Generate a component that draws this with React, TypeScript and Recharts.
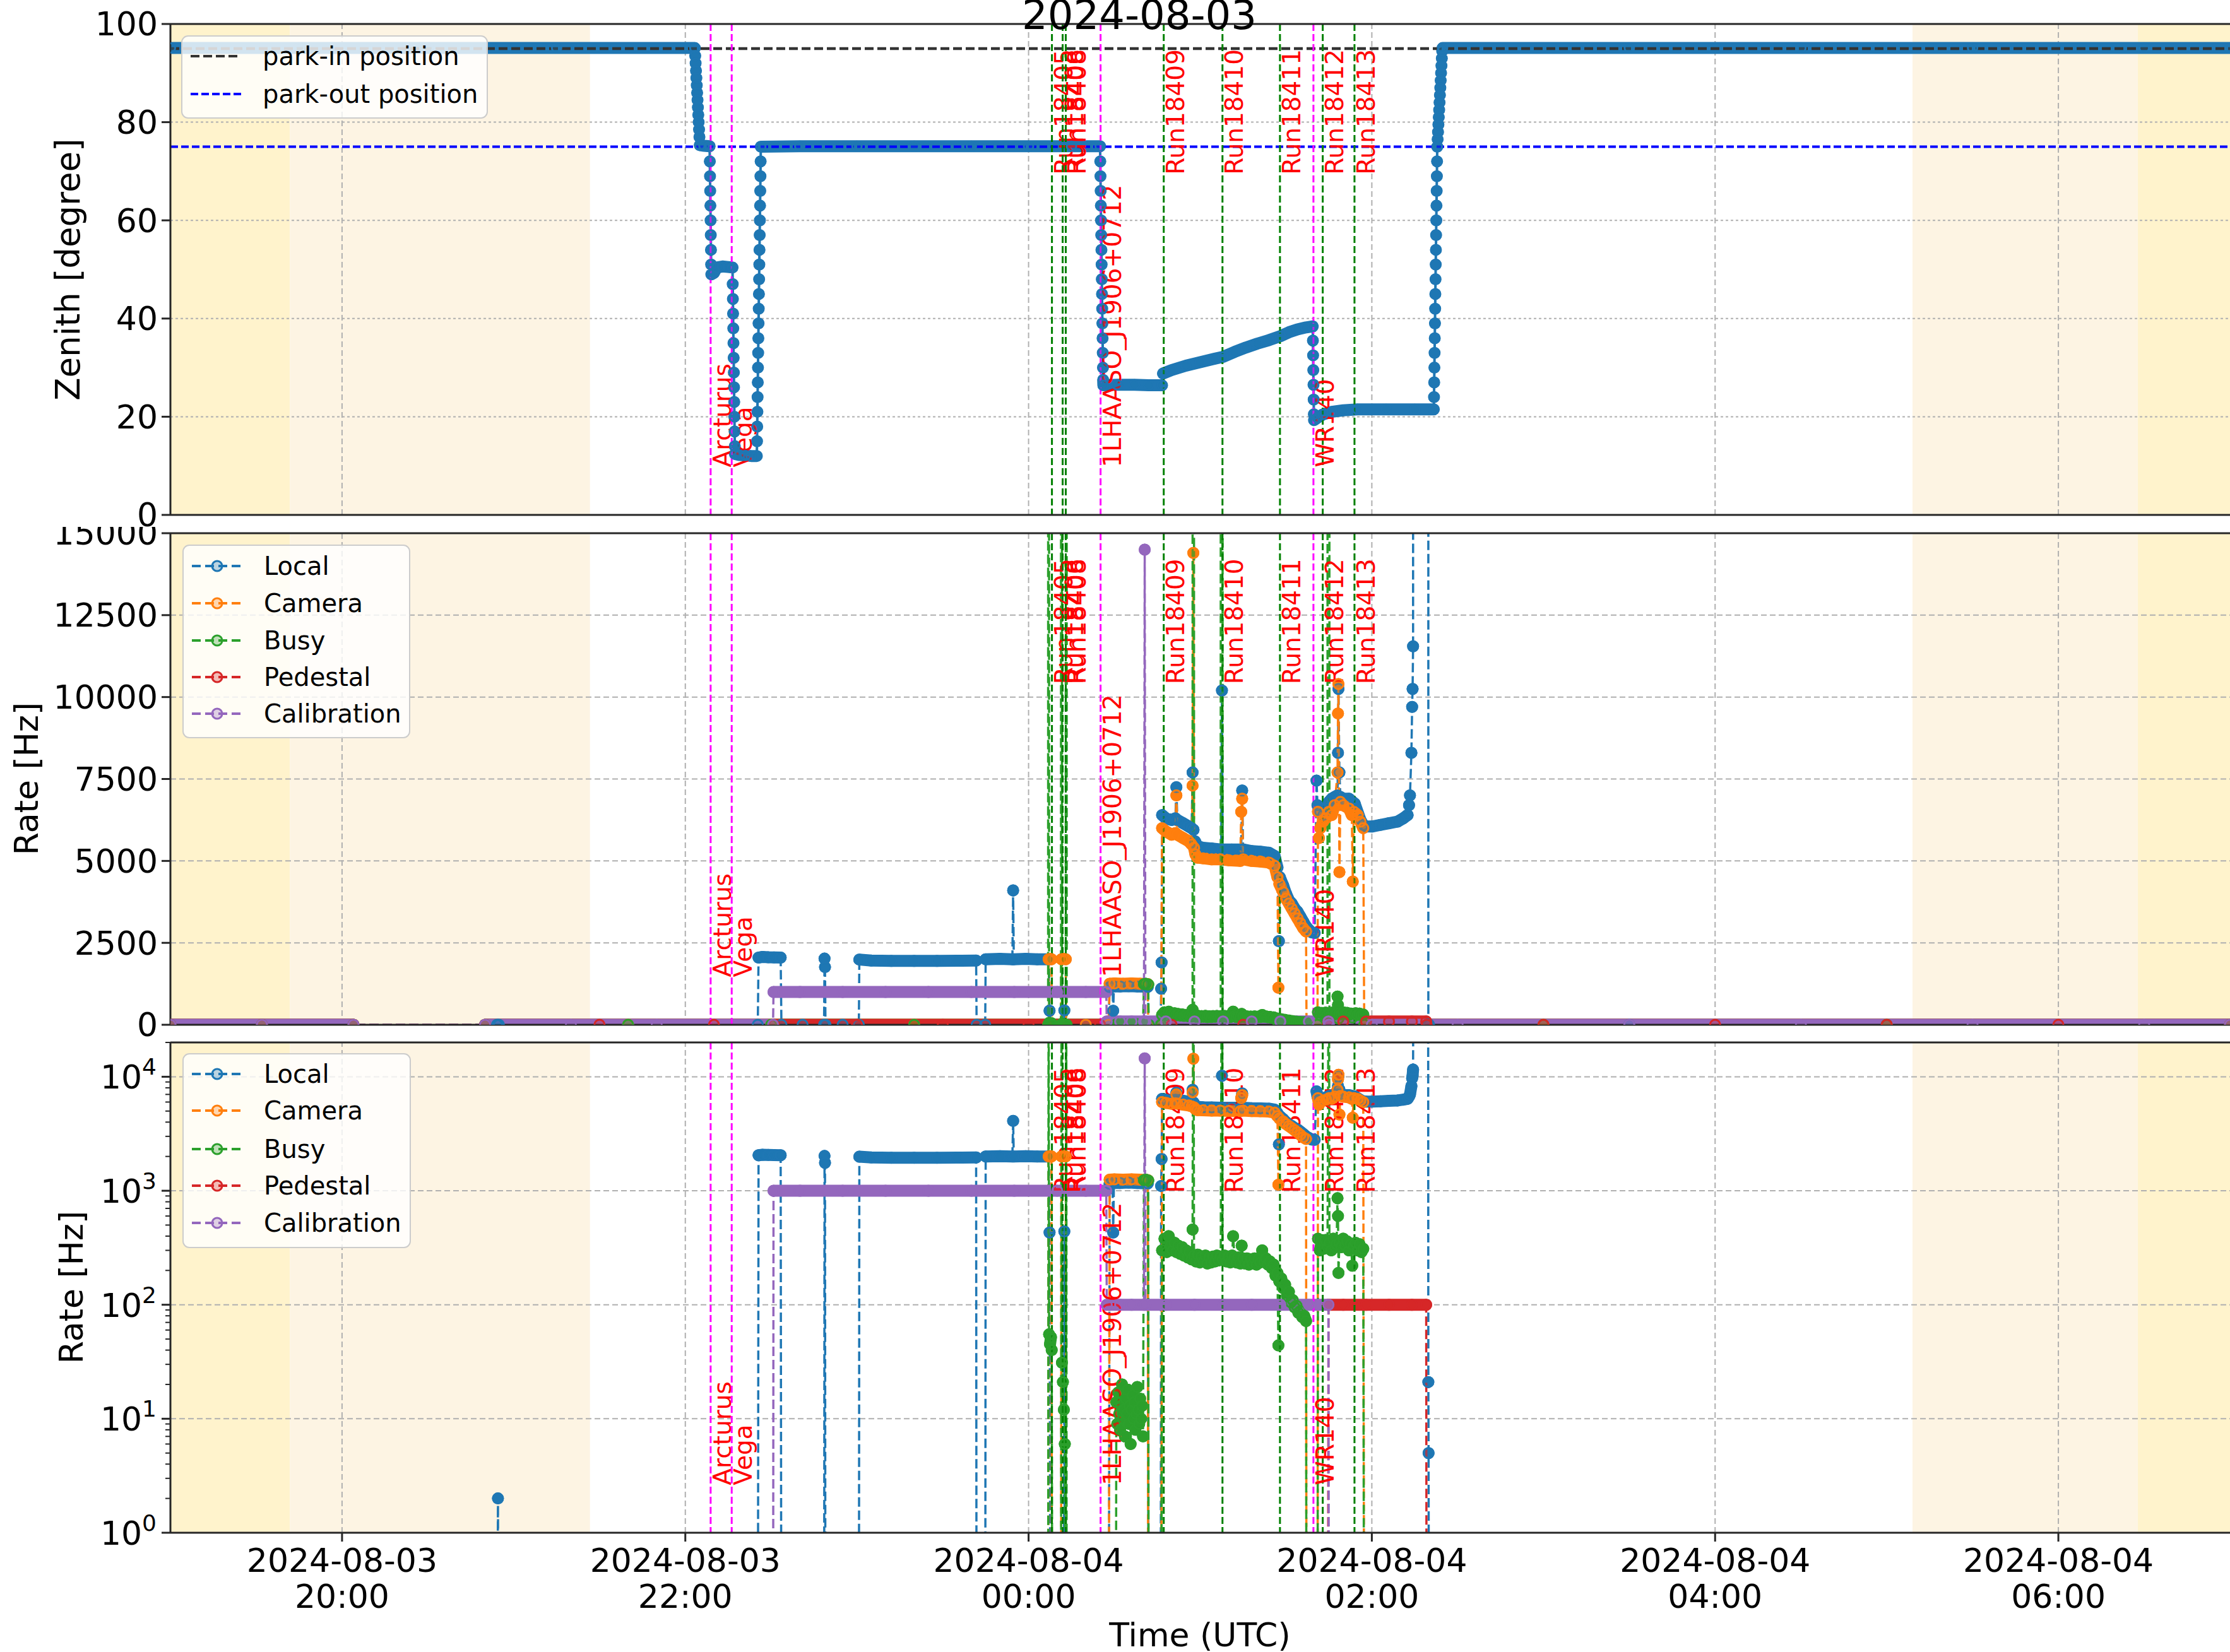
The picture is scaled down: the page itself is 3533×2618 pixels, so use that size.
import React from 'react'
import { ComposedChart, Line, XAxis, YAxis, ReferenceLine, ReferenceArea, Legend } from 'recharts'

type Pt = [string, number] | null

// ---------- data ----------
const xTickTimes = ['20:00', '22:00', '00:00', '02:00', '04:00', '06:00']
const xTickDates = ['2024-08-03', '2024-08-03', '2024-08-04', '2024-08-04', '2024-08-04', '2024-08-04']
const twilightDeep = [['19:00', '19:41:45'], ['06:27:45', '07:00']]
const twilightPale = [['19:41:45', '21:26:40'], ['05:09', '06:27:45']]
const sourceNames = ['Arcturus', 'Vega', '1LHAASO_J1906+0712', 'WR140']
const sourceTimes = ['22:08:51', '22:16:13', '00:25:10', '01:39:35']
const runNames = ['Run18405', 'Run18406', 'Run18408', 'Run18409', 'Run18410', 'Run18411', 'Run18412', 'Run18413']
const runTimes = ['00:08:10', '00:11:55', '00:13:00', '00:47:15', '01:07:47', '01:27:53', '01:42:50', '01:53:56']
const parkIn = 95
const parkOut = 75
const zenithTicks = [0, 20, 40, 60, 80, 100]
const rateTicks = [0, 2500, 5000, 7500, 10000, 12500, 15000]
const logDecades = [1, 10, 100, 1000, 10000]

const zenith: Pt[] = [
  ['19:00', 95.1], ['19:45', 95.1], ['20:30', 95.1], ['21:15', 95.1], ['22:03:20', 95.1],
  ['22:03:28', 93.5], ['22:03:36', 92], ['22:03:44', 90.5], ['22:03:52', 89], ['22:04', 87.5], ['22:04:08', 86], ['22:04:16', 84.5],
  ['22:04:24', 83], ['22:04:32', 81.5], ['22:04:40', 80], ['22:04:48', 78.5], ['22:04:56', 77], ['22:05:04', 75.3],
  ['22:06:30', 75.2], ['22:08:30', 75.1],
  ['22:08:34', 72], ['22:08:38', 69], ['22:08:42', 66], ['22:08:46', 63], ['22:08:50', 60], ['22:08:54', 57], ['22:08:58', 54], ['22:09:02', 51], ['22:09:06', 49],
  ['22:10', 49.3], ['22:11', 50.4], ['22:13', 50.6], ['22:15', 50.5], ['22:16:30', 50.4],
  ['22:16:34', 47], ['22:16:38', 44], ['22:16:42', 41], ['22:16:46', 38], ['22:16:50', 35], ['22:16:54', 32], ['22:16:58', 29],
  ['22:17:02', 26], ['22:17:06', 23], ['22:17:10', 20], ['22:17:14', 17], ['22:17:18', 14], ['22:17:22', 12.4],
  ['22:19', 12.2], ['22:21', 12.1], ['22:23', 12], ['22:25', 12],
  ['22:25:04', 15], ['22:25:08', 18], ['22:25:12', 21], ['22:25:16', 24], ['22:25:20', 27], ['22:25:24', 30], ['22:25:28', 33],
  ['22:25:32', 36], ['22:25:36', 39], ['22:25:40', 42], ['22:25:44', 45], ['22:25:48', 48], ['22:25:52', 51], ['22:25:56', 54],
  ['22:26', 57], ['22:26:04', 60], ['22:26:08', 63], ['22:26:12', 66], ['22:26:16', 69], ['22:26:20', 72], ['22:26:24', 75],
  ['22:40', 75.1], ['23:00', 75.1], ['23:20', 75.1], ['23:40', 75.1], ['00:00', 75.1], ['00:15', 75.1], ['00:25', 75.1],
  ['00:25:04', 72], ['00:25:08', 69], ['00:25:12', 66], ['00:25:16', 63], ['00:25:20', 60], ['00:25:24', 57], ['00:25:28', 54],
  ['00:25:32', 51], ['00:25:36', 48], ['00:25:40', 45], ['00:25:44', 42], ['00:25:48', 39], ['00:25:52', 36], ['00:25:56', 33],
  ['00:26', 30], ['00:26:04', 27.5], ['00:26:08', 26.4],
  ['00:31', 26.5], ['00:37', 26.5], ['00:42', 26.4], ['00:46:40', 26.4],
  ['00:47', 28.8], ['00:50', 29.5], ['00:55', 30.4], ['01:00', 31.1], ['01:05', 31.8], ['01:08', 32.2], ['01:12', 33.2],
  ['01:16', 34.1], ['01:20', 34.9], ['01:24', 35.6], ['01:28', 36.4], ['01:31', 37.2], ['01:34', 37.8], ['01:37', 38.2], ['01:39:20', 38.4],
  ['01:39:24', 35.5], ['01:39:28', 32.5], ['01:39:32', 29.5], ['01:39:36', 26.5], ['01:39:40', 23.5], ['01:39:44', 20.5], ['01:39:48', 19.3],
  ['01:41', 19.8], ['01:43', 20.5], ['01:46', 21], ['01:50', 21.3], ['01:55', 21.5], ['02:05', 21.5], ['02:15', 21.5], ['02:21:40', 21.5],
  ['02:21:44', 24], ['02:21:48', 27], ['02:21:52', 30], ['02:21:56', 33], ['02:22', 36], ['02:22:04', 39], ['02:22:08', 42],
  ['02:22:12', 45], ['02:22:16', 48], ['02:22:20', 51], ['02:22:24', 54], ['02:22:28', 57], ['02:22:32', 60], ['02:22:36', 63],
  ['02:22:40', 66], ['02:22:44', 69], ['02:22:48', 72], ['02:22:52', 75],
  ['02:23', 76.5], ['02:23:08', 78], ['02:23:16', 79.5], ['02:23:24', 81], ['02:23:32', 82.5], ['02:23:40', 84], ['02:23:48', 85.5],
  ['02:23:56', 87], ['02:24:04', 88.5], ['02:24:12', 90], ['02:24:20', 91.5], ['02:24:28', 93], ['02:24:36', 94.5], ['02:24:44', 95.1],
  ['03:30', 95.1], ['04:30', 95.1], ['05:30', 95.1], ['06:30', 95.1], ['07:00', 95.1],
]

const local: Pt[] = [
  ['19:00', 0], ['19:32', 0], ['20:04', 0], null,
  ['20:50', 0], ['20:54:10', 0], ['20:54:30', 2], ['20:54:50', 0], ['21:40', 0], ['22:25:20', 0],
  ['22:25:36', 2050], ['22:27', 2070], ['22:29', 2060], ['22:31', 2055], ['22:33:20', 2050], ['22:33:36', 0],
  ['22:41', 0], ['22:48:30', 0], ['22:48:40', 2020], ['22:48:50', 1760], ['22:49', 0],
  ['22:55', 0], ['23:00:40', 0], ['23:00:50', 1990], ['23:05', 1960], ['23:12', 1950], ['23:20', 1950], ['23:28', 1950],
  ['23:35', 1955], ['23:41:40', 1960], ['23:41:50', 0],
  ['23:44:50', 0], ['23:45', 2000], ['23:50', 2010], ['23:54:20', 2000], ['23:54:36', 4100], ['23:54:50', 2000],
  ['23:59', 2010], ['00:03', 2000], ['00:07', 2000],
  ['00:07:20', 430], ['00:07:40', 0], ['00:12:20', 0], ['00:12:30', 440], ['00:12:40', 0],
  ['00:20', 0], ['00:28', 0], ['00:28:20', 1150], ['00:29:20', 1170], ['00:29:35', 430], ['00:29:50', 1170], ['00:32', 1170],
  ['00:35', 1180], ['00:38', 1170], ['00:41:40', 1160], ['00:42', 0],
  ['00:46:10', 0], ['00:46:20', 1100], ['00:46:30', 1900], ['00:46:40', 6400], ['00:48', 6300], ['00:50', 6250], ['00:51:20', 6300],
  ['00:51:40', 7250], ['00:52', 6250], ['00:54', 6150], ['00:56', 6050], ['00:57', 6000], ['00:57:20', 7700], ['00:57:40', 5950],
  ['00:58:10', 5600], ['00:59', 5450], ['01:01', 5400], ['01:04', 5380], ['01:07:20', 5350], ['01:07:36', 10200], ['01:07:50', 5350],
  ['01:11', 5350], ['01:14:20', 5350], ['01:14:40', 7150], ['01:15', 5350], ['01:18', 5300], ['01:21', 5280], ['01:24', 5250],
  ['01:26', 5150], ['01:27', 4800], ['01:27:30', 2550], ['01:27:50', 4500], ['01:29', 4250], ['01:30', 4000], ['01:31', 3800],
  ['01:32', 3700], ['01:33', 3550], ['01:34', 3450], ['01:35', 3300], ['01:36', 3150], ['01:37', 3000], ['01:38', 2900],
  ['01:39', 2820], ['01:40', 2800],
  ['01:40:40', 7450], ['01:41', 6700], ['01:42', 6500], ['01:43', 6400], ['01:44', 6600], ['01:45', 6800], ['01:46', 6900],
  ['01:47', 6950], ['01:48', 7000], ['01:48:10', 8300], ['01:48:20', 10250], ['01:48:40', 7700], ['01:49', 6950], ['01:50', 6900],
  ['01:52', 6900], ['01:54', 6750], ['01:56', 6250], ['01:57', 6100], ['01:58', 6050], ['02:00', 6050], ['02:03', 6100],
  ['02:06', 6150], ['02:09', 6200], ['02:11', 6300], ['02:12:30', 6400], ['02:13', 6700], ['02:13:20', 7000], ['02:13:50', 8300],
  ['02:14:05', 9700], ['02:14:15', 10250], ['02:14:25', 11550], ['02:14:35', 1000000], ['02:19:40', 1000000], ['02:19:45', 21],
  ['02:19:50', 5], ['02:20', 0], ['03:30', 0], ['05:00', 0], ['07:00', 0],
]

const camera: Pt[] = [
  ['19:00', 0], ['19:32', 0], ['20:04', 0], null,
  ['20:50', 0], ['21:40', 0], ['22:30', 0], ['23:20', 0], ['00:06:50', 0],
  ['00:07', 2000], ['00:07:30', 2010], ['00:08', 2000], ['00:08:10', 0], ['00:11:20', 0], ['00:11:30', 2000], ['00:12:15', 2010],
  ['00:13', 2000], ['00:13:10', 0],
  ['00:20', 0], ['00:28', 0], ['00:28:20', 1250], ['00:30', 1260], ['00:33', 1250], ['00:36', 1260], ['00:39', 1250],
  ['00:41:40', 1240], ['00:41:50', 0],
  ['00:46:20', 0], ['00:46:40', 6000], ['00:48', 5900], ['00:50', 5800], ['00:51:20', 5850], ['00:51:40', 7000], ['00:52', 5800],
  ['00:54', 5700], ['00:56', 5600], ['00:57', 5500], ['00:57:20', 7300], ['00:57:36', 14400], ['00:57:50', 5400], ['00:58:20', 5200],
  ['00:59', 5100], ['01:01', 5080], ['01:04', 5050], ['01:07', 5050], ['01:10', 5020], ['01:14', 5000], ['01:14:20', 6500],
  ['01:14:40', 6900], ['01:15', 5050], ['01:18', 5000], ['01:21', 4980], ['01:24', 4950], ['01:26', 4850], ['01:27', 4500],
  ['01:27:20', 1130], ['01:27:40', 4300], ['01:29', 4050], ['01:30', 3850], ['01:31', 3700], ['01:32', 3550], ['01:33', 3400],
  ['01:34', 3250], ['01:35', 3100], ['01:36', 2950], ['01:37', 2850], ['01:37:10', 0],
  ['01:41', 0], ['01:41:10', 6500], ['01:41:30', 5700], ['01:42', 6000], ['01:43', 6200], ['01:44', 6300], ['01:45', 6500],
  ['01:46', 6400], ['01:47', 6700], ['01:48', 7700], ['01:48:10', 9500], ['01:48:20', 10400], ['01:48:40', 4660], ['01:49', 6800],
  ['01:50', 6700], ['01:52', 6600], ['01:53', 6400], ['01:53:20', 4370], ['01:53:40', 6500], ['01:55', 6400], ['01:56', 6200],
  ['01:57', 6000], ['01:57:20', 0],
  ['03:00', 0], ['05:00', 0], ['07:00', 0],
]

const busy: Pt[] = [
  ['19:00', 0], ['19:32', 0], ['20:04', 0], null,
  ['20:50', 0], ['21:40', 0], ['22:30', 0], ['23:20', 0], ['00:06:50', 0],
  ['00:07', 1000000], ['00:07:10', 55], ['00:07:30', 45], ['00:07:50', 52], ['00:08:05', 40], ['00:08:20', 0],
  ['00:11:20', 0], ['00:11:30', 1000000], ['00:11:40', 31], ['00:12', 21], ['00:12:20', 12], ['00:12:40', 6], ['00:13', 0],
  ['00:13:10', 1000000], ['00:13:20', 0],
  ['00:30:30', 0], ['00:30:40', 14], ['00:31', 9], ['00:31:20', 17], ['00:31:40', 11], ['00:32', 8], ['00:32:20', 13],
  ['00:32:40', 20], ['00:33', 10], ['00:33:20', 12], ['00:33:40', 7], ['00:34', 15], ['00:34:20', 11], ['00:34:40', 18],
  ['00:35', 9], ['00:35:20', 13], ['00:35:40', 6], ['00:36', 12], ['00:36:20', 16], ['00:36:40', 10], ['00:37', 14],
  ['00:37:20', 8], ['00:37:40', 11], ['00:38', 19], ['00:38:20', 12], ['00:38:40', 9], ['00:39', 15], ['00:39:20', 10],
  ['00:39:40', 13], ['00:40', 7], ['00:40:20', 1240], ['00:41', 1250], ['00:41:50', 1230], ['00:42', 0],
  ['00:46:20', 0], ['00:46:40', 300], ['00:47:30', 380], ['00:48:20', 290], ['00:49', 400], ['00:49:40', 330], ['00:50:20', 300],
  ['00:51', 350], ['00:51:40', 290], ['00:52:20', 330], ['00:53', 280], ['00:53:40', 320], ['00:54:20', 270], ['00:55', 300],
  ['00:55:40', 260], ['00:56:20', 290], ['00:57', 250], ['00:57:20', 457], ['00:57:36', 1000000], ['00:57:50', 270],
  ['00:58:30', 240], ['00:59:10', 275], ['00:59:50', 235], ['01:00:30', 265], ['01:01:10', 240], ['01:01:50', 270],
  ['01:02:30', 230], ['01:03:10', 260], ['01:03:50', 235], ['01:04:30', 265], ['01:05:10', 240], ['01:05:50', 270],
  ['01:06:30', 245], ['01:07:10', 265], ['01:07:36', 1000000], ['01:07:50', 250], ['01:08:30', 270], ['01:09:10', 240],
  ['01:09:50', 265], ['01:10:30', 235], ['01:11:10', 270], ['01:11:30', 400], ['01:12', 260], ['01:12:40', 235],
  ['01:13:20', 260], ['01:14', 230], ['01:14:30', 330], ['01:15', 255], ['01:15:40', 230], ['01:16:20', 255], ['01:17', 225],
  ['01:17:40', 250], ['01:18:20', 230], ['01:19', 255], ['01:19:40', 225], ['01:20:20', 250], ['01:21', 235], ['01:21:40', 300],
  ['01:22:20', 240], ['01:23', 255], ['01:23:40', 225], ['01:24:20', 240], ['01:25', 210], ['01:25:40', 225], ['01:26:20', 180],
  ['01:27', 190], ['01:27:20', 44], ['01:27:40', 160], ['01:28:20', 170], ['01:29', 140], ['01:29:40', 150], ['01:30:20', 120],
  ['01:31', 130], ['01:31:40', 105], ['01:32:20', 110], ['01:33', 95], ['01:33:40', 98], ['01:34:20', 85], ['01:35', 88],
  ['01:35:40', 78], ['01:36:20', 80], ['01:37', 72], ['01:37:10', 0],
  ['01:41', 0], ['01:41:10', 380], ['01:41:50', 300], ['01:42:30', 360], ['01:43:10', 310], ['01:43:50', 370], ['01:44:30', 320],
  ['01:45', 1000000], ['01:45:10', 350], ['01:45:50', 300], ['01:46:30', 380], ['01:47:10', 320], ['01:47:40', 340],
  ['01:48', 860], ['01:48:10', 600], ['01:48:20', 190], ['01:48:40', 350], ['01:49:20', 320], ['01:50', 380], ['01:50:40', 330],
  ['01:51:20', 360], ['01:52', 300], ['01:52:40', 340], ['01:53:10', 220], ['01:53:40', 330], ['01:54:20', 350], ['01:55', 300],
  ['01:55:40', 340], ['01:56:20', 290], ['01:57', 310], ['01:57:20', 0],
  ['03:00', 0], ['05:00', 0], ['07:00', 0],
]

const pedestal: Pt[] = [
  ['19:00', 0], ['19:32', 0], ['20:04', 0], null,
  ['20:50', 0], ['21:30', 0], ['22:10', 0], ['22:31', 0], ['23:00', 0], ['23:30', 0], ['00:00', 0], ['00:25', 0],
  ['00:50', 0], ['01:15', 0], ['01:44:40', 0],
  ['01:44:50', 100], ['01:50', 100], ['01:58', 100], ['02:06', 100], ['02:14', 100], ['02:19', 100],
  ['02:19:10', 0], ['03:00', 0], ['04:00', 0], ['05:00', 0], ['06:00', 0], ['07:00', 0],
]

const calibration: Pt[] = [
  ['19:00', 0], ['19:32', 0], ['20:04', 0], null,
  ['20:50', 0], ['21:20', 0], ['21:50', 0], ['22:30:40', 0],
  ['22:30:50', 1000], ['22:40', 1000], ['22:55', 1000], ['23:10', 1000], ['23:25', 1000], ['23:40', 1000], ['23:55', 1000],
  ['00:10', 1000], ['00:20', 1000], ['00:27:10', 1000],
  ['00:27:20', 100], ['00:32', 100], ['00:36', 100], ['00:40:20', 100], ['00:40:36', 14500], ['00:40:50', 100], ['00:48', 100],
  ['00:58', 100], ['01:08', 100], ['01:18', 100], ['01:28', 100], ['01:38', 100], ['01:44:50', 100],
  ['01:45', 0], ['02:00', 0], ['02:30', 0], ['03:30', 0], ['04:30', 0], ['05:30', 0], ['06:30', 0], ['07:00', 0],
]

// ---------- layout ----------
const W = 3533
const H = 2618
const PLOT_L = 270
const PLOT_W = W - PLOT_L
const FONT = "'DejaVu Sans', sans-serif"
const SPINE = '#262626'
const GRID = '#b0b0b0'
const LOG_TOP = 20000
const LOG_FLOOR = 0.01

const BLUE = '#1f77b4'
const rateSeries = [
  { name: 'Local', color: '#1f77b4', pts: local },
  { name: 'Camera', color: '#ff7f0e', pts: camera },
  { name: 'Busy', color: '#2ca02c', pts: busy },
  { name: 'Pedestal', color: '#d62728', pts: pedestal },
  { name: 'Calibration', color: '#9467bd', pts: calibration },
]

function hrs(s: string) {
  const [h, m, sec] = s.split(':').map(Number)
  return (h < 12 ? h + 24 : h) + m / 60 + (sec || 0) / 3600
}

const X0 = hrs('19:00')
const X1 = hrs('07:00')
const PX_PER_H = PLOT_W / (X1 - X0)
const xTickValues = xTickTimes.map(hrs)
const logMinor = logDecades.flatMap((d) => [2, 3, 4, 5, 6, 7, 8, 9].map((k) => k * d)).filter((v) => v <= LOG_TOP)

// dense sampling shows as a solid band; steep jumps only as thin line + rings
function bandData(pts: Pt[], yPx: (v: number) => number, tf: (v: number) => number) {
  const out: { t: number; v: number | null }[] = []
  let prev: { t: number; v: number } | null = null
  for (const p of pts) {
    if (!p) {
      if (prev) out.push({ t: prev.t + 1e-4, v: null })
      prev = null
      continue
    }
    const cur = { t: hrs(p[0]), v: tf(p[1]) }
    if (prev) {
      const dx = (cur.t - prev.t) * PX_PER_H
      const dy = Math.abs(yPx(cur.v) - yPx(prev.v))
      if (dy > 2.5 * dx + 8) out.push({ t: (prev.t + cur.t) / 2, v: null })
    }
    out.push(cur)
    prev = cur
  }
  return out
}

const ring = (color: string, r: number) => (p: any) => {
  const k = 'd' + p.index
  if (p.cx == null || p.cy == null || !isFinite(p.cy)) return <g key={k} />
  return <circle key={k} cx={p.cx} cy={p.cy} r={r} fill={color} fillOpacity={0.3} stroke={color} strokeWidth={3} />
}

const annShape = (name: string, frac: number, color: string) => (p: any) => {
  const x = p.x1
  const top = Math.min(p.y1, p.y2)
  const bot = Math.max(p.y1, p.y2)
  const ty = bot - frac * (bot - top)
  const tx = x + 32
  return (
    <g>
      <line x1={x} x2={x} y1={top} y2={bot} stroke={color} strokeWidth={3} strokeDasharray="11 5" />
      <text x={tx} y={ty} transform={`rotate(-90 ${tx} ${ty})`} fill="#ff0000" fontSize={39} fontFamily={FONT}>
        {name}
      </text>
    </g>
  )
}

function LegendBox({ w, h, rows, rowY }: any) {
  return (
    <svg width={w + 4} height={h + 4} style={{ display: 'block', overflow: 'visible' }}>
      <rect x={2} y={2} width={w} height={h} rx={10} fill="#fff" fillOpacity={0.8} stroke="#cccccc" strokeWidth={2} />
      {rows.map((r: any, i: number) => (
        <g key={r.name}>
          <line x1={16} x2={96} y1={rowY[i] + 2} y2={rowY[i] + 2} stroke={r.color} strokeWidth={4} strokeDasharray={r.dash} />
          {r.marker && (
            <circle cx={56} cy={rowY[i] + 2} r={8} fill={r.color} fillOpacity={0.3} stroke={r.color} strokeWidth={3} />
          )}
          <text x={130} y={rowY[i] + 16} fontSize={40} fontFamily={FONT} fill="#000">
            {r.name}
          </text>
        </g>
      ))}
    </svg>
  )
}

const xTickLabel = (p: any) => {
  const i = xTickValues.findIndex((v) => Math.abs(v - p.payload.value) < 1e-6)
  return (
    <text x={p.x} y={849} textAnchor="middle" fontSize={52} fill="#000" fontFamily={FONT}>
      <tspan x={p.x} y={849}>{xTickDates[i]}</tspan>
      <tspan x={p.x} y={906}>{xTickTimes[i]}</tspan>
    </text>
  )
}

const logTick = (p: any) => {
  const v = p.payload.value
  const major = logDecades.includes(v)
  const y = p.y
  return (
    <g>
      <line x1={PLOT_L - (major ? 14 : 8)} x2={PLOT_L} y1={y} y2={y} stroke={SPINE} strokeWidth={major ? 3 : 2} />
      {major && (
        <text x={248} y={y + 19} textAnchor="end" fontSize={52} fill="#000" fontFamily={FONT}>
          10
          <tspan dy={-22} fontSize={36}>
            {Math.round(Math.log10(v))}
          </tspan>
        </text>
      )}
    </g>
  )
}

function Panel({ kind, top, mt, h, xh }: { kind: 'zen' | 'rate' | 'log'; top: number; mt: number; h: number; xh: number }) {
  const isLog = kind === 'log'
  const yMax = kind === 'zen' ? 100 : kind === 'rate' ? 15000 : LOG_TOP
  const tf = isLog ? (v: number) => (v > 0 ? v : LOG_FLOOR) : (v: number) => v
  const yPx = isLog ? (v: number) => (Math.log10(v) / Math.log10(LOG_TOP)) * h : (v: number) => (v / yMax) * h
  const list = kind === 'zen' ? [{ name: 'Zenith', color: BLUE, pts: zenith }] : rateSeries
  const gridY = kind === 'zen' ? [20, 40, 60, 80] : kind === 'rate' ? [2500, 5000, 7500, 10000, 12500] : [10, 100, 1000, 10000]
  const hDash = kind === 'zen' ? '4 4' : '9 5'
  const bandW = kind === 'zen' ? 19 : 19
  const dotR = kind === 'zen' ? 7.5 : 8

  const seriesEls = list.flatMap((s) => {
    const conn = s.pts.filter(Boolean).map((p: any) => ({ t: hrs(p[0]), v: tf(p[1]) }))
    const band = bandData(s.pts, yPx, tf)
    return [
      <Line
        key={s.name + '-c'}
        name={s.name}
        data={conn}
        dataKey="v"
        type="linear"
        stroke={s.color}
        strokeWidth={kind === 'zen' ? 4 : 3.5}
        strokeDasharray={kind === 'zen' ? undefined : '15 6'}
        dot={ring(s.color, dotR)}
        activeDot={false}
        isAnimationActive={false}
      />,
      <Line
        key={s.name + '-b'}
        data={band}
        dataKey="v"
        type="linear"
        stroke={s.color}
        strokeWidth={bandW}
        strokeLinecap="round"
        strokeLinejoin="round"
        connectNulls={false}
        dot={false}
        activeDot={false}
        legendType="none"
        isAnimationActive={false}
      />,
    ]
  })

  const legendRows =
    kind === 'zen'
      ? [
          { name: 'park-in position', color: '#333333', dash: '14 6' },
          { name: 'park-out position', color: '#0000ff', dash: '12 5' },
        ]
      : rateSeries.map((s) => ({ name: s.name, color: s.color, dash: '14 7', marker: true }))
  const legendGeom =
    kind === 'zen'
      ? { left: 286, top: 55, w: 484, h: 130, rowY: [32, 92] }
      : kind === 'rate'
        ? { left: 288, top: 27, w: 359, h: 305, rowY: [33, 92, 151, 209, 267] }
        : { left: 288, top: 26, w: 360, h: 307, rowY: [32, 90, 151, 209, 268] }

  const yAxis = isLog ? (
    <YAxis
      type="number"
      scale="log"
      domain={[1, LOG_TOP]}
      ticks={[...logDecades, ...logMinor]}
      interval={0}
      width={PLOT_L}
      allowDataOverflow
      axisLine={{ stroke: SPINE, strokeWidth: 3 }}
      tickLine={false}
      tick={logTick}
    />
  ) : (
    <YAxis
      type="number"
      domain={[0, yMax]}
      ticks={kind === 'zen' ? zenithTicks : rateTicks}
      interval={0}
      width={PLOT_L}
      allowDataOverflow
      tickSize={14}
      tickMargin={6}
      axisLine={{ stroke: SPINE, strokeWidth: 3 }}
      tickLine={{ stroke: SPINE, strokeWidth: 3 }}
      tick={{ fontSize: 52, fill: '#000', fontFamily: FONT }}
    />
  )

  return (
    <div style={{ position: 'absolute', left: 0, top }}>
      <ComposedChart width={W} height={mt + h + xh} margin={{ top: mt, right: 0, bottom: 0, left: 0 }}>
        <XAxis
          type="number"
          dataKey="t"
          domain={[X0, X1]}
          ticks={xTickValues}
          interval={0}
          allowDataOverflow
          height={xh}
          tickSize={14}
          axisLine={{ stroke: SPINE, strokeWidth: 3 }}
          tickLine={{ stroke: SPINE, strokeWidth: 3 }}
          tick={kind === 'log' ? xTickLabel : false}
        />
        {yAxis}
        {twilightDeep.map(([a, b]) => (
          <ReferenceArea key={'dk' + a} x1={hrs(a)} x2={hrs(b)} fill="#fff3cc" fillOpacity={1} stroke="none" />
        ))}
        {twilightPale.map(([a, b]) => (
          <ReferenceArea key={'pl' + a} x1={hrs(a)} x2={hrs(b)} fill="#fdf4e3" fillOpacity={1} stroke="none" />
        ))}
        {xTickValues.map((x) => (
          <ReferenceLine key={'gx' + x} x={x} stroke={GRID} strokeWidth={2} strokeDasharray="9 5" />
        ))}
        {gridY.map((y) => (
          <ReferenceLine key={'gy' + y} y={y} stroke={GRID} strokeWidth={2} strokeDasharray={hDash} />
        ))}
        {seriesEls}
        {kind === 'zen' && <ReferenceLine y={parkIn} stroke="#333333" strokeWidth={4.5} strokeDasharray="14 6" />}
        {kind === 'zen' && <ReferenceLine y={parkOut} stroke="#0000ff" strokeWidth={4} strokeDasharray="12 5" />}
        {runTimes.map((t, i) => (
          <ReferenceLine key={'run' + i} x={hrs(t)} stroke="#008000" shape={annShape(runNames[i], 0.693, '#008000')} />
        ))}
        {sourceTimes.map((t, i) => (
          <ReferenceLine key={'src' + i} x={hrs(t)} stroke="#ff00ff" shape={annShape(sourceNames[i], 0.097, '#ff00ff')} />
        ))}
        <ReferenceLine y={yMax} stroke={SPINE} strokeWidth={3} />
        <Legend
          layout="vertical"
          align="center"
          verticalAlign="middle"
          wrapperStyle={{ left: legendGeom.left, top: legendGeom.top, width: legendGeom.w + 4, height: legendGeom.h + 4 }}
          content={() => <LegendBox w={legendGeom.w} h={legendGeom.h} rows={legendRows} rowY={legendGeom.rowY} />}
        />
      </ComposedChart>
    </div>
  )
}

export default function App() {
  return (
    <div style={{ position: 'relative', width: W, height: H, overflow: 'hidden', background: '#fff', fontFamily: FONT }}>
      <style>{'html,body{margin:0;padding:0;overflow:hidden;background:#fff}'}</style>
      <Panel kind="zen" top={0} mt={38} h={778} xh={20} />
      <Panel kind="rate" top={835} mt={10} h={779} xh={20} />
      <Panel kind="log" top={1642} mt={10} h={777} xh={185} />
      <svg width={W} height={H} style={{ position: 'absolute', left: 0, top: 0, pointerEvents: 'none' }} fontFamily={FONT}>
        <text x={1805} y={46} textAnchor="middle" fontSize={64} fill="#000">
          2024-08-03
        </text>
        <text transform="translate(126 427) rotate(-90)" textAnchor="middle" fontSize={53} fill="#000">
          Zenith [degree]
        </text>
        <text transform="translate(60 1234) rotate(-90)" textAnchor="middle" fontSize={52} fill="#000">
          Rate [Hz]
        </text>
        <text transform="translate(131 2040) rotate(-90)" textAnchor="middle" fontSize={52} fill="#000">
          Rate [Hz]
        </text>
        <text x={1901} y={2609} textAnchor="middle" fontSize={52} fill="#000">
          Time (UTC)
        </text>
      </svg>
    </div>
  )
}
